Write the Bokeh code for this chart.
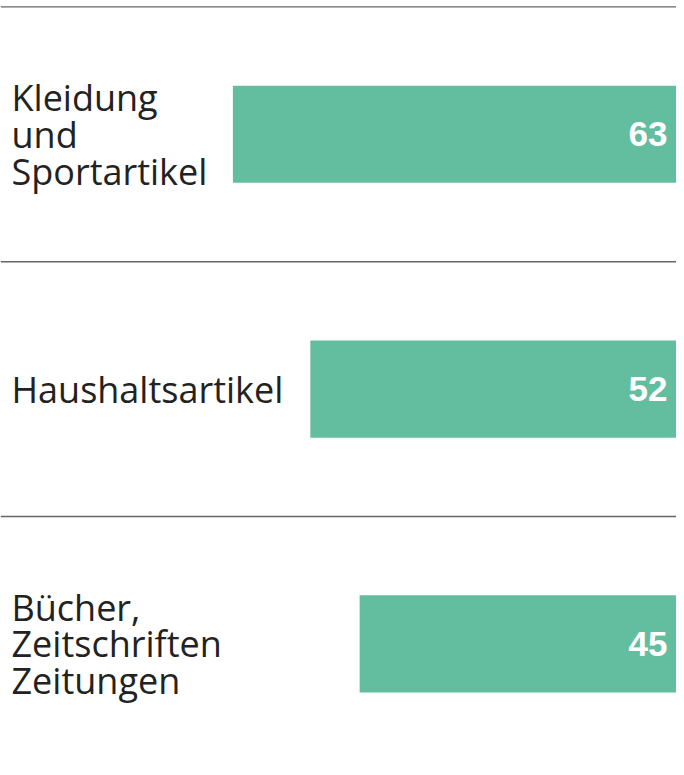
from bokeh.plotting import figure
from bokeh.models import Range1d, ColumnDataSource
from bokeh.core.properties import value
from bokeh.embed import file_html
from bokeh.resources import INLINE

categories = ["Kleidung\nund\nSportartikel", "Haushaltsartikel", "Bücher,\nZeitschriften\nZeitungen"]
values = [63, 52, 45]
value_labels = ["63", "52", "45"]

rows = list(range(len(categories)))
x_max = 96.0
src = ColumnDataSource(dict(
    row=rows, val=values, lab=value_labels, cat=categories,
    sep=[r - 0.5 for r in rows], left=[x_max] * len(rows), zero=[0] * len(rows),
))

p = figure(width=676, height=767, output_backend="svg", toolbar_location=None,
           x_range=Range1d(x_max, 0), y_range=Range1d(2.485, -0.525),
           min_border=0, outline_line_color=None)
p.axis.visible = False
p.grid.visible = False
p.background_fill_color = "white"

p.segment(x0="left", x1="zero", y0="sep", y1="sep", source=src,
          line_color="#666666", line_width=1.4)

p.hbar(y="row", left="zero", right="val", height=0.381, source=src,
       fill_color="#63BEA0", line_color=None)

p.text(x="left", y="row", text="cat", source=src, x_offset=11,
       text_align="left", text_baseline="middle",
       text_font=value("Open Sans"), text_font_size="36px",
       text_color="#222222", text_line_height=0.75)

p.text(x="zero", y="row", text="lab", source=src, x_offset=-9,
       text_align="right", text_baseline="middle",
       text_font=value("Liberation Sans"), text_font_style="bold",
       text_font_size="35px", text_color="white")

open("out.html", "w").write(file_html(p, INLINE))
